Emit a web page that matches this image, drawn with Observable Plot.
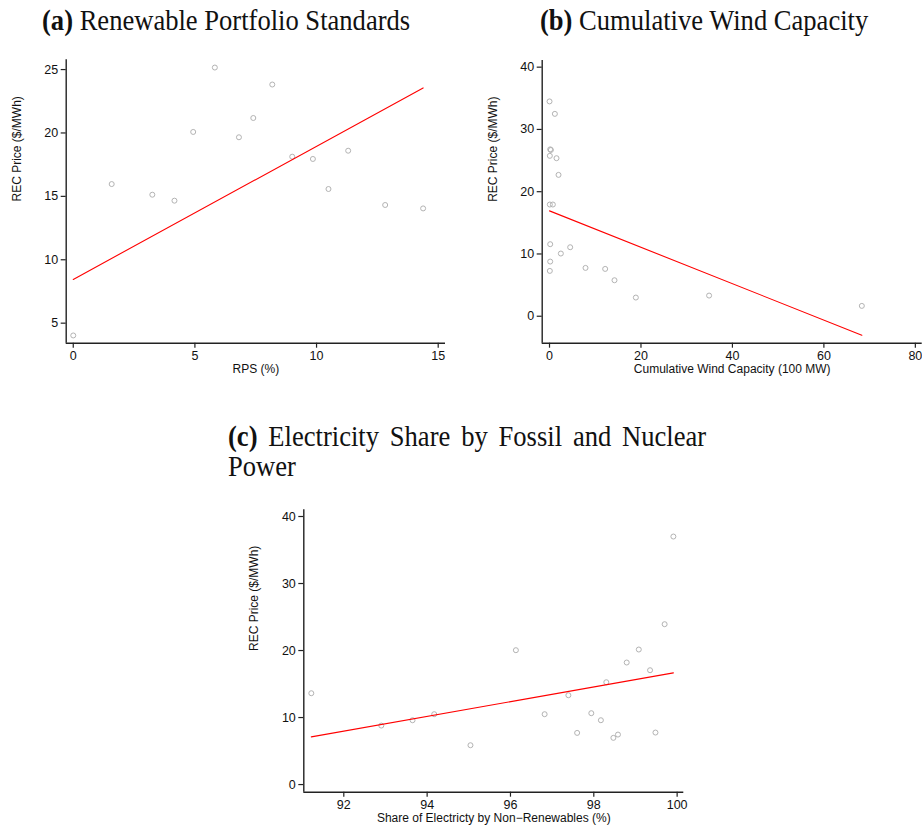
<!DOCTYPE html>
<html>
<head>
<meta charset="utf-8">
<script src="https://cdn.jsdelivr.net/npm/d3@7"></script>
<script src="https://cdn.jsdelivr.net/npm/@observablehq/plot@0.6"></script>
<style>
  html, body { margin: 0; padding: 0; background: #fff; }
  body { width: 922px; height: 830px; position: relative; overflow: hidden; }
  .panel { position: absolute; }
  .title { position: absolute; font-family: "Liberation Serif", "Times New Roman", serif; font-size: 29px; color: #111; white-space: nowrap; line-height: 29.5px; transform: scaleX(0.916); transform-origin: 0 0; }
  .title b { font-weight: bold; }
  #tc1 { white-space: normal; text-align: justify; text-align-last: justify; width: 522px; }
</style>
</head>
<body>
<div class="title" id="ta" style="left:42px; top:5.5px;"><b>(a)</b> Renewable Portfolio Standards</div>
<div class="title" id="tb" style="left:540px; top:5.5px;"><b>(b)</b> Cumulative Wind Capacity</div>
<div class="title" id="tc1" style="left:228px; top:422px;"><b>(c)</b> <span>Electricity Share by Fossil and Nuclear</span></div>
<div class="title" id="tc2" style="left:228px; top:451.5px;">Power</div>
<div class="panel" id="pa" style="left:0px; top:50px;"></div>
<div class="panel" id="pb" style="left:470px; top:50px;"></div>
<div class="panel" id="pc" style="left:240px; top:500px;"></div>
<script>
// ---- Data ----
const yLabel = "REC Price ($/MWh)";

// (a) Renewable Portfolio Standards
const aRps   = [0, 1.58, 3.25, 4.16, 4.93, 5.82, 6.81, 7.40, 8.18, 9.0, 9.85, 10.49, 11.30, 12.82, 14.38];
const aPrice = [4.03, 15.97, 15.13, 14.66, 20.08, 25.16, 19.66, 21.18, 23.82, 18.13, 17.95, 15.58, 18.6, 14.32, 14.05];
const aFitX  = [0, 14.38];
const aFitY  = [8.45, 23.55];
const aXTicks = [0, 5, 10, 15];
const aYTicks = [5, 10, 15, 20, 25];
const aXLabel = "RPS (%)";

// (b) Cumulative Wind Capacity
const bWind  = [0, 1.17, 0.15, 0.3, 0.07, 1.53, 1.97, 0.07, 0.73, 0.15, 4.52, 2.48, 0.15, 0.07, 7.87, 12.17, 14.21, 18.88, 34.9, 68.3];
const bPrice = [34.5, 32.5, 26.8, 26.7, 25.76, 25.38, 22.7, 17.94, 17.94, 11.57, 11.08, 10.07, 8.78, 7.28, 7.76, 7.60, 5.78, 3.0, 3.32, 1.66];
const bFitX  = [0, 68.3];
const bFitY  = [16.92, -3.05];
const bXTicks = [0, 20, 40, 60, 80];
const bYTicks = [0, 10, 20, 30, 40];
const bXLabel = "Cumulative Wind Capacity (100 MW)";

// (c) Electricity share by fossil and nuclear
const cShare = [91.22, 92.9, 93.65, 94.17, 95.04, 96.13, 96.82, 97.39, 97.6, 97.94, 98.17, 98.3, 98.47, 98.58, 98.79, 99.08, 99.35, 99.48, 99.70, 99.91];
const cPrice = [13.63, 8.8, 9.6, 10.5, 5.87, 20.05, 10.5, 13.33, 7.71, 10.65, 9.6, 15.27, 6.97, 7.46, 18.21, 20.15, 17.06, 7.76, 23.93, 37.01];
const cFitX  = [91.22, 99.91];
const cFitY  = [7.11, 16.67];
const cXTicks = [92, 94, 96, 98, 100];
const cYTicks = [0, 10, 20, 30, 40];
const cXLabel = "Share of Electricty by Non\u2212Renewables (%)";

function zip(xs, ys) { return xs.map((x, i) => ({x, y: ys[i]})); }

function panel(cfg) {
  const pts = zip(cfg.xs, cfg.ys);
  const fit = zip(cfg.fx, cfg.fy);
  return Plot.plot({
    width: cfg.width, height: cfg.height,
    marginLeft: cfg.ml, marginRight: cfg.mr, marginTop: cfg.mt, marginBottom: cfg.mb,
    style: {fontFamily: "'Liberation Sans', Arial, sans-serif", fontSize: "12.5px", color: "#111", background: "white", maxWidth: "none", overflow: "visible"},
    x: {domain: cfg.xd, ticks: cfg.xt},
    y: {domain: cfg.yd, ticks: cfg.yt},
    marks: [
      Plot.axisX({ticks: cfg.xt, tickSize: 5, tickPadding: 3, label: null, stroke: "#222", strokeWidth: 1.2}),
      Plot.axisY({ticks: cfg.yt, tickSize: 5, tickPadding: 3, label: null, stroke: "#222", strokeWidth: 1.2}),
      Plot.ruleX([cfg.xd[0]], {stroke: "#222", strokeWidth: 1.4}),
      Plot.ruleY([cfg.yd[0]], {stroke: "#222", strokeWidth: 1.4}),
      Plot.dot(pts, {x: "x", y: "y", r: 2.5, stroke: "#b3b3b3", fill: "none", strokeWidth: 1}),
      Plot.line(fit, {x: "x", y: "y", stroke: "#ff0000", strokeWidth: 1.1}),
      Plot.text([cfg.xl], {frameAnchor: "bottom", dy: 29.5, fontSize: 12, fill: "#111"}),
      Plot.text([yLabel], {frameAnchor: "left", rotate: -90, dx: -49.5, fontSize: 12, fill: "#111"})
    ]
  });
}

document.getElementById("pa").appendChild(panel({
  width: 460, height: 340, ml: 65.7, mr: 15, mt: 9.3, mb: 47.3,
  xs: aRps, ys: aPrice, fx: aFitX, fy: aFitY,
  xd: [-0.29, 15.3], yd: [3.42, 25.77], xt: aXTicks, yt: aYTicks, xl: aXLabel
}));
document.getElementById("pb").appendChild(panel({
  width: 452, height: 340, ml: 71.7, mr: 0.3, mt: 10, mb: 47.3,
  xs: bWind, ys: bPrice, fx: bFitX, fy: bFitY,
  xd: [-1.6, 81.5], yd: [-4.33, 41.07], xt: bXTicks, yt: bYTicks, xl: bXLabel
}));
document.getElementById("pc").appendChild(panel({
  width: 460, height: 330, ml: 63.3, mr: 16.7, mt: 9.3, mb: 38.3,
  xs: cShare, ys: cPrice, fx: cFitX, fy: cFitY,
  xd: [91.04, 100.16], yd: [-1.14, 41.0], xt: cXTicks, yt: cYTicks, xl: cXLabel
}));
</script>
</body>
</html>
